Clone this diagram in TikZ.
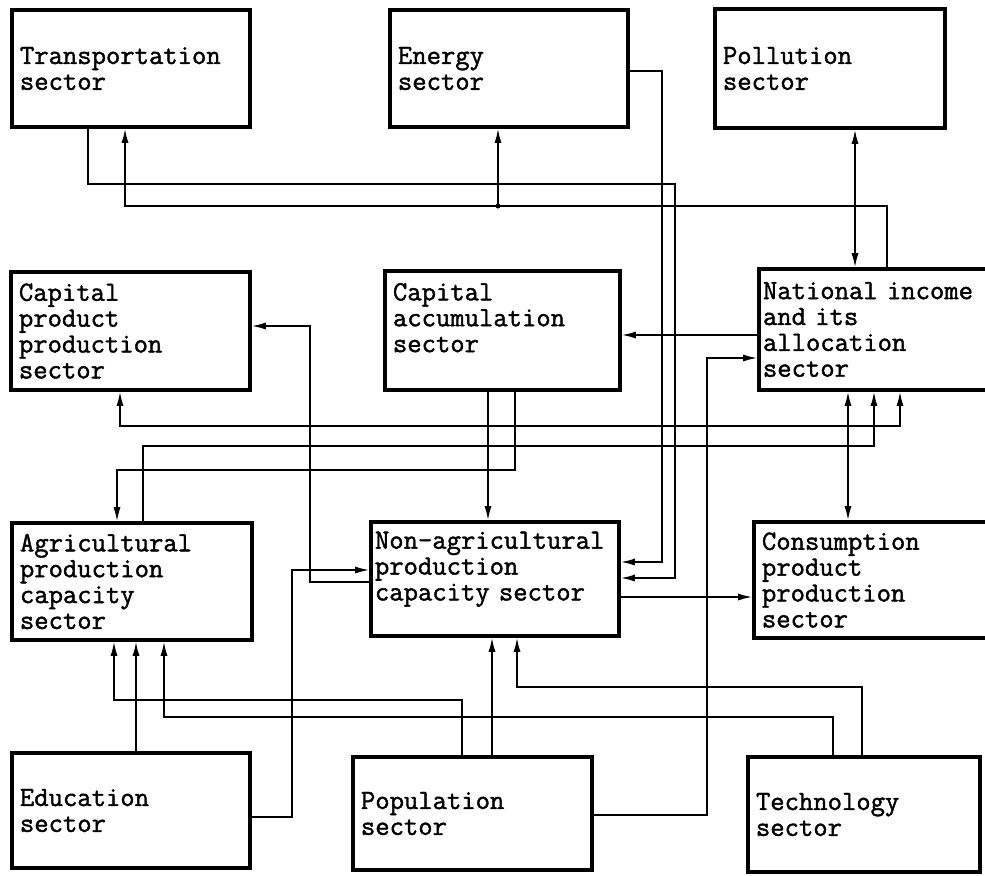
\documentclass[tikz,border=0pt]{standalone}
\usepackage{fontspec}
\newfontfamily\typewriter{Latin Modern Mono}[FakeBold=1.5]
\usetikzlibrary{arrows.meta}

\begin{document}
\begin{tikzpicture}[
    x=0.025cm, y=-0.025cm,
    box/.style={
        rectangle,
        draw=black,
        line width=2.4pt,
        inner xsep=0.2cm,
        inner ysep=0pt,
        align=left,
        font=\typewriter\fontsize{19.8}{18.4}\selectfont
    },
    flow/.style={-{Latex[length=10pt,width=5pt]}, line width=1.2pt},
    both/.style={{Latex[length=10pt,width=5pt]}-{Latex[length=10pt,width=5pt]}, line width=1.2pt}
]
    \useasboundingbox (0,0) rectangle (985,875);

    % Define nodes
    \node[box, text width=5.55cm, minimum height=2.925cm] (trans) at (131,68.5) {Transportation\\ sector};
    \node[box, text width=5.55cm, minimum height=2.925cm] (energy) at (509,68.5) {Energy\\ sector};
    \node[box, text width=5.35cm, minimum height=2.975cm] (pollu) at (830,68.5) {Pollution\\ sector};

    \node[box, text width=5.575cm, minimum height=2.95cm] (capprod) at (130.5,331) {Capital\\ product\\ production\\ sector};
    \node[box, text width=5.475cm, minimum height=2.975cm] (capacc) at (502.5,330.5) {Capital\\ accumulation\\ sector\\ \mbox{}};
    \node[box, inner xsep=0.1cm, text width=5.575cm, minimum height=3.025cm] (natinc) at (874.5,329.5) {National income\\ and its\\ allocation\\ sector};

    \node[box, text width=5.6cm, minimum height=2.925cm] (agri) at (132,581.5) {Agricultural\\ production\\ capacity\\ sector};
    \node[box, inner xsep=0.1cm, text width=6.0cm, minimum height=2.85cm] (nonagri) at (495,579) {Non-agricultural\\ production\\ capacity sector\\ \mbox{}};
    \node[box, text width=5.5cm, minimum height=2.9cm] (cons) at (872,580) {Consumption\\ product\\ production\\ sector};

    \node[box, text width=5.55cm, minimum height=2.875cm] (edu) at (131,810.5) {Education\\ sector};
    \node[box, text width=5.575cm, minimum height=2.825cm] (pop) at (472.5,813.5) {Population\\ sector};
    \node[box, text width=5.4cm, minimum height=2.875cm] (tech) at (864,814.5) {Technology\\ sector};

    \coordinate (split) at (498,206);

    % Top row links
    \draw[flow] (trans.south -| 88,0) |- (675,184) |- (nonagri.east |- 0,578);
    \draw[flow] (energy.east |- 0,71) -| (662,562) -- (nonagri.east |- 0,562);
    \draw[flow] (natinc.north -| 887,0) |- (125,206) -- (trans.south -| 125,0);
    \draw[flow] (split) -- (energy.south -| split);
    \fill (split) circle (2.5);
    \draw[both] (pollu.south -| 855,0) -- (natinc.north -| 855,0);

    % Middle row links
    \draw[flow] (natinc.west |- 0,335) -- (capacc.east |- 0,335);
    \draw[flow] (nonagri.west |- 0,582) -| (310,326) -- (capprod.east |- 0,326);
    \draw[both] (capprod.south -| 120,0) |- (900,426) -- (natinc.south -| 900,0);
    \draw[flow] (agri.north -| 143,0) |- (874,446) -- (natinc.south -| 874,0);
    \draw[flow] (capacc.south -| 515,0) |- (117,470) -- (agri.north -| 117,0);
    \draw[flow] (capacc.south -| 488,0) -- (nonagri.north -| 488,0);
    \draw[both] (natinc.south -| 848,0) -- (cons.north -| 848,0);
    \draw[flow] (nonagri.east |- 0,597) -- (cons.west |- 0,597);

    % Bottom row links
    \draw[flow] (edu.north -| 136,0) -- (agri.south -| 136,0);
    \draw[flow] (edu.east |- 0,817) -| (292,570) -- (nonagri.west |- 0,570);
    \draw[flow] (pop.north -| 462,0) |- (114,700) -- (agri.south -| 114,0);
    \draw[flow] (pop.north -| 492,0) -- (nonagri.south -| 492,0);
    \draw[flow] (pop.east |- 0,815) -| (707,358) -- (natinc.west |- 0,358);
    \draw[flow] (tech.north -| 833,0) |- (164,717) -- (agri.south -| 164,0);
    \draw[flow] (tech.north -| 862,0) |- (517,687) -- (nonagri.south -| 517,0);
\end{tikzpicture}
\end{document}
